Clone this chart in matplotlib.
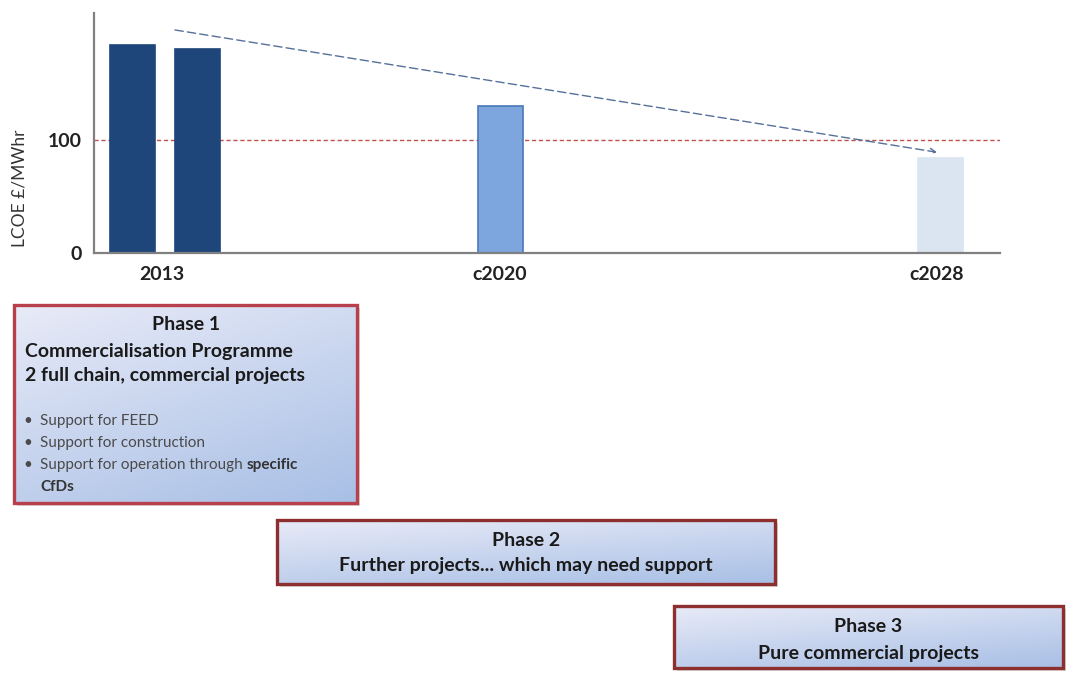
# LCOE cost-reduction chart with the three support phases underneath
import numpy as np
import matplotlib.pyplot as plt
from matplotlib.patches import Rectangle

plt.rcParams['font.family'] = ['Lato', 'DejaVu Sans']

# chart data
periods = ['2013', 'c2020', 'c2028']
bar_values = [184, 180, 130, 84]          # LCOE £/MWhr, two 2013 projects
bar_colors = ['#1f467a', '#1f467a', '#7da6de', '#dbe4f1']
bar_edges = ['#1f467a', '#1f467a', '#4a78b8', '#dbe4f1']
reference_level = 100
trend_start = 197
trend_end = 89

# layout (axis units ~ pixels from the y axis)
bar_x = [38, 103, 406, 846]
bar_w = 45
period_x = [68, 406, 843]
trend_x = [81, 843]

fig = plt.figure(figsize=(10.69, 6.75), dpi=100)
ax = fig.add_axes([94 / 1069, 1 - 253 / 675, 906 / 1069, 240 / 675])
ax.set_xlim(0, 906)
ax.set_ylim(0, 212)

ax.bar(bar_x, bar_values, width=bar_w, color=bar_colors,
       edgecolor=bar_edges, linewidth=1.2, zorder=2)
ax.axhline(reference_level, color='#c0504d', linestyle=(0, (3, 2)),
           linewidth=1.0, zorder=1)
ax.annotate('', xy=(trend_x[1], trend_end), xytext=(trend_x[0], trend_start),
            arrowprops=dict(arrowstyle='->', color='#55709a', lw=1.0,
                            linestyle=(0, (6, 3)), shrinkA=0, shrinkB=0),
            zorder=3)

ax.set_xticks(period_x)
ax.set_xticklabels(periods, fontsize=14, fontweight='bold', color='#222222')
ax.set_yticks([0, 100])
ax.set_yticklabels(['0', '100'], fontsize=14, fontweight='bold', color='#222222')
ax.tick_params(length=0, pad=9)
ax.set_ylabel('LCOE £/MWhr', fontsize=12.5, color='#333333')
ax.yaxis.set_label_coords(-0.073, 0.27)
for side in ['top', 'right']:
    ax.spines[side].set_visible(False)
for side in ['left', 'bottom']:
    ax.spines[side].set_color('#808080')
    ax.spines[side].set_linewidth(1.6)

# overlay in pixel coordinates for the phase boxes
ov = fig.add_axes([0, 0, 1, 1])
ov.set_xlim(0, 1069)
ov.set_ylim(675, 0)
ov.axis('off')


def phase_box(x0, y0, x1, y1, edge):
    gx, gy = np.meshgrid(np.linspace(0, 1, 200), np.linspace(0, 1, 60))
    t = 0.35 * gx + 0.65 * gy
    top = np.array([0.91, 0.92, 0.97])
    bottom = np.array([0.66, 0.75, 0.90])
    img = top[None, None, :] * (1 - t[..., None]) + bottom[None, None, :] * t[..., None]
    ov.add_patch(Rectangle((x0 + 3, y0 + 3), x1 - x0, y1 - y0,
                           facecolor='#d8d8d8', edgecolor='none', zorder=1))
    ov.imshow(img, extent=(x0, x1, y1, y0), aspect='auto', zorder=2)
    ov.add_patch(Rectangle((x0, y0), x1 - x0, y1 - y0, facecolor='none',
                           edgecolor=edge, linewidth=2.4, zorder=3))


phase_box(14, 305, 357, 503, '#b8404c')
phase_box(277, 520, 775, 584, '#8e2f2f')
phase_box(674, 606, 1063, 668, '#8e2f2f')
ov.set_xlim(0, 1069)
ov.set_ylim(675, 0)

head = dict(fontsize=14, fontweight='bold', color='#1a1a1a', va='center', zorder=4)
ov.text(186, 325, 'Phase 1', ha='center', **head)
ov.text(25, 351, 'Commercialisation Programme', ha='left', **head)
ov.text(25, 376, '2 full chain, commercial projects', ha='left', **head)

bullets = ['Support for FEED', 'Support for construction',
           'Support for operation through ']
small = dict(fontsize=11, color='#4a4a4a', va='center', zorder=4)
for i, b in enumerate(bullets):
    y = 421 + i * 22
    ov.text(28, y, '•', ha='center', **small)
    t = ov.text(40, y, b, ha='left', **small)
ov.annotate('specific', xy=(1, 0.5), xycoords=t, ha='left', va='center',
            fontsize=11, fontweight='bold', color='#333333', zorder=4)
ov.text(40, 487, 'CfDs', ha='left', fontsize=11, fontweight='bold',
        color='#333333', va='center', zorder=4)

ov.text(526, 541, 'Phase 2', ha='center', **head)
ov.text(526, 566, 'Further projects... which may need support', ha='center', **head)
ov.text(868, 627, 'Phase 3', ha='center', **head)
ov.text(868, 653, 'Pure commercial projects', ha='center', **head)

fig.savefig('out.png', dpi=100, facecolor='white')
